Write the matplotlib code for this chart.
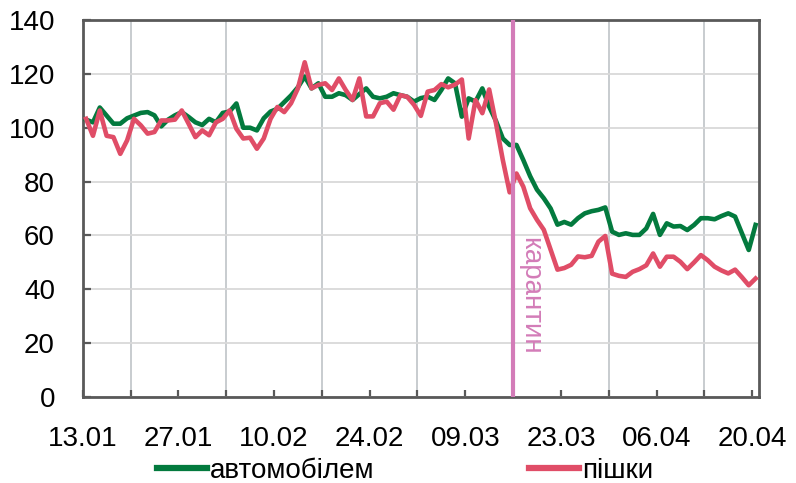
import matplotlib
matplotlib.use('Agg')
import matplotlib.pyplot as plt
from matplotlib.ticker import MultipleLocator
import numpy as np
import pandas as pd

plt.rcParams['font.family'] = ['Liberation Sans', 'DejaVu Sans']

# Daily index, 13.01.2020 - 20.04.2020
dates = pd.date_range('2020-01-13', '2020-04-20', freq='D')

car = [103, 102, 107.5, 104.5, 101.5, 101.5, 103.5, 104.5, 105.5, 105.8,
       104.6, 100.5, 103, 104.6, 105.8, 104, 102, 101, 103.3, 102,
       105.5, 106, 109, 100, 100, 99, 103.5, 106, 107, 109.5,
       112, 115, 119, 114.6, 116.5, 111.5, 111.5, 112.8, 112.1, 110.3,
       112.5, 114.6, 111.5, 110.9, 111.5, 112.8, 112.1, 111.5, 109.7, 111,
       111.5, 110.3, 114, 118.3, 116.5, 104.1, 110.9, 109.7, 114.6, 107.8,
       102.5, 96, 93.6, 93.6, 88, 82, 77, 73.8, 70, 64,
       65, 64, 66.4, 68.2, 69, 69.5, 70.4, 61.4, 60.2, 60.8,
       60.2, 60.2, 62.6, 68, 60.2, 64.5, 63.3, 63.5, 62, 63.9,
       66.4, 66.4, 66, 67.2, 68.2, 67, 60.8, 54.6, 63.9]

walk = [103.3, 97, 106.4, 97, 96.5, 90.3, 95.3, 103.3, 100.9, 97.8,
        98.4, 102.7, 102.7, 103, 106.4, 101.5, 96.5, 99, 97.2, 102,
        103.3, 106.4, 99.6, 96, 96.3, 92.2, 96, 103.3, 107.7, 105.8,
        109.1, 114.6, 124.3, 114.6, 115.9, 116.5, 114, 118.3, 114, 110.3,
        118.3, 104.2, 104.2, 109.1, 109.7, 106.7, 112.1, 111.5, 108.5, 104.4,
        113.4, 114, 116.2, 115, 116, 117.9, 96, 110.3, 105.4, 114.2,
        101.6, 88, 76, 83, 78.1, 70.1, 65.8, 62.1, 54.7, 47.3,
        47.9, 49.1, 52.2, 51.9, 52.4, 57.7, 59.8, 45.8, 45, 44.6,
        46.5, 47.5, 48.9, 53.3, 48.4, 52.1, 52.1, 50.2, 47.5, 50,
        52.7, 50.8, 48.4, 47, 45.9, 47.3, 44.5, 41.5, 44]

tick_labels = ['13.01', '27.01', '10.02', '24.02', '09.03', '23.03', '06.04', '20.04']
quarantine_date = pd.Timestamp('2020-03-16')
series_names = ['автомобілем', 'пішки']

green = '#037a3e'
red = '#e04d67'
pink = '#d37cb8'
frame = '#595959'

fig = plt.figure(figsize=(7.96, 4.83), dpi=100)
ax = fig.add_axes([0.1039, 0.178, 0.8496, 0.7806])

x = np.arange(len(dates)) + 0.5
ax.plot(x, car, color=green, lw=3.3, label=series_names[0], solid_joinstyle='round', zorder=3)
ax.plot(x, walk, color=red, lw=3.3, label=series_names[1], solid_joinstyle='round', zorder=4)

q = (dates == quarantine_date).argmax()
ax.axvline(q, color=pink, lw=3.0, zorder=5)
ax.text(q + 0.6, 37.5, 'карантин', rotation=270, color=pink, fontsize=20,
        ha='left', va='center', zorder=6)

ax.set_xlim(0, len(dates))
ax.set_ylim(0, 140)
ax.yaxis.set_major_locator(MultipleLocator(20))
ax.set_xticks(np.arange(0, len(dates), 14))
ax.set_xticklabels(tick_labels)
ax.xaxis.set_minor_locator(MultipleLocator(7))

ax.grid(axis='y', which='major', color='#d9d9d9', lw=1.3, zorder=1)
ax.grid(axis='x', which='minor', color='#c4c8cc', lw=1.3, zorder=1)
ax.set_axisbelow(True)

for s in ax.spines.values():
    s.set_color(frame)
    s.set_linewidth(2.0)

ax.tick_params(axis='y', direction='in', length=6, width=1.6, color=frame,
               labelsize=20, pad=20)
ax.tick_params(axis='x', which='both', direction='in', length=5, width=1.6,
               color=frame, labelsize=20, pad=21)

ax.legend(loc='center', bbox_to_anchor=(0.4766, -0.195), ncol=2, frameon=False,
          fontsize=20, handlelength=1.8, handletextpad=0.1, columnspacing=5.6,
          borderaxespad=0)
leg = ax.get_legend()
for h in leg.get_lines():
    h.set_linewidth(4.5)

fig.savefig('out.png', dpi=100)
